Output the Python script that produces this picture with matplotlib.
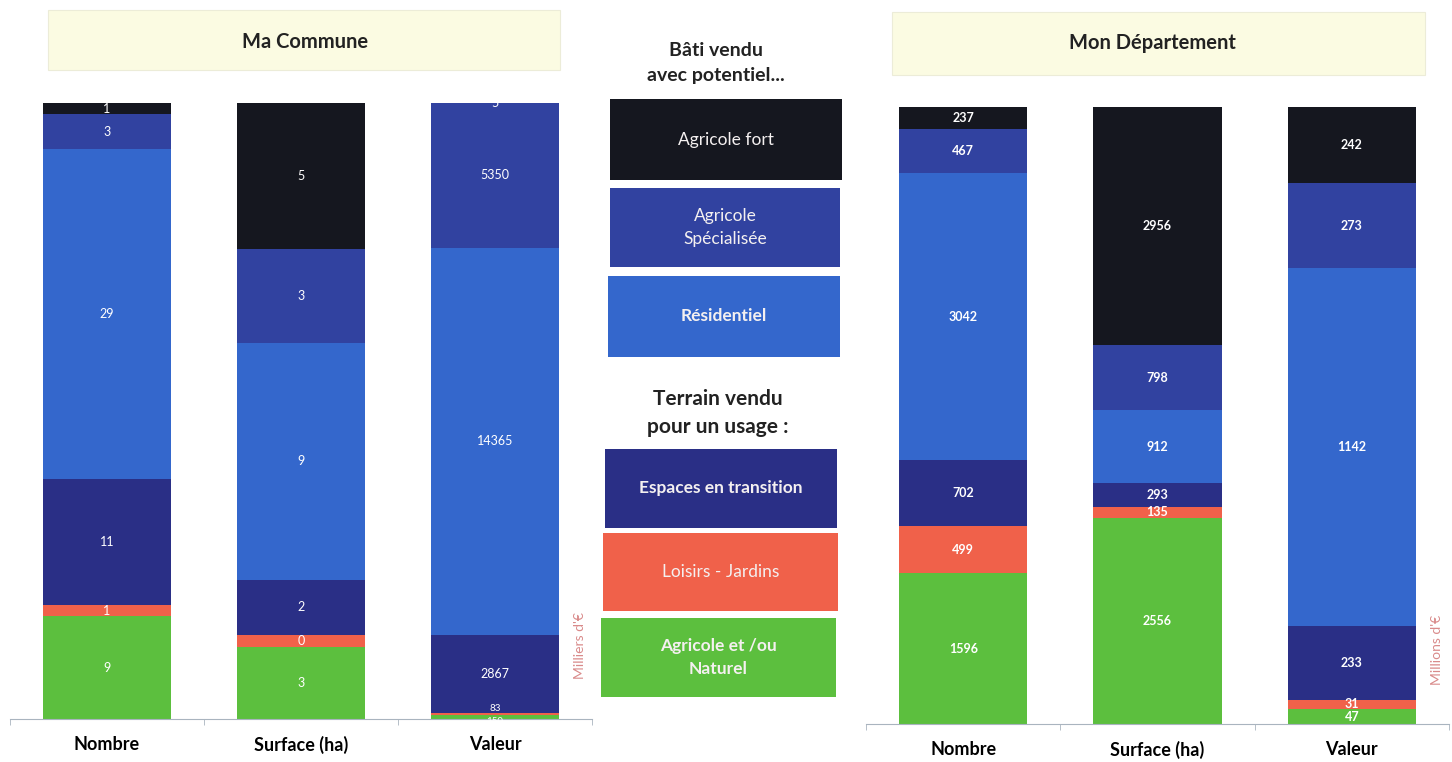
import matplotlib.pyplot as plt
from matplotlib.patches import Rectangle
import numpy as np

plt.rcParams['font.family'] = ['Lato', 'DejaVu Sans']

# categories (bottom -> top of each stack)
segments = ['Agricole et /ou\nNaturel', 'Loisirs - Jardins', 'Espaces en transition',
            'Résidentiel', 'Agricole\nSpécialisée', 'Agricole fort']
colors = ['#5cbf3e', '#f0614a', '#2a2f86', '#3467cc', '#3142a0', '#15171f']
bar_names = ['Nombre', 'Surface (ha)', 'Valeur']

# Ma Commune  (columns: Nombre, Surface, Valeur)
commune = {
    'Agricole et /ou\nNaturel': [9, 2.6, 150],
    'Loisirs - Jardins': [1, 0.45, 83],
    'Espaces en transition': [11, 2.0, 2867],
    'Résidentiel': [29, 8.6, 14365],
    'Agricole\nSpécialisée': [3, 3.4, 5350],
    'Agricole fort': [1, 5.3, 5],
}
# Mon Département
departement = {
    'Agricole et /ou\nNaturel': [1596, 2556, 47],
    'Loisirs - Jardins': [499, 135, 31],
    'Espaces en transition': [702, 293, 233],
    'Résidentiel': [3042, 912, 1142],
    'Agricole\nSpécialisée': [467, 798, 273],
    'Agricole fort': [237, 2956, 242],
}

W, H = 1452, 762
fig = plt.figure(figsize=(W / 100, H / 100), dpi=100)


def px_axes(x0, y0, x1, y1):
    return fig.add_axes([x0 / W, 1 - y1 / H, (x1 - x0) / W, (y1 - y0) / H])


def px_rect(x0, y0, x1, y1, fc, ec='none'):
    r = Rectangle((x0 / W, 1 - y1 / H), (x1 - x0) / W, (y1 - y0) / H,
                  transform=fig.transFigure, facecolor=fc, edgecolor=ec, lw=0.8)
    fig.add_artist(r)


def stacked(ax, data, unit, bold):
    vals = np.array([data[s] for s in segments], dtype=float)
    fracs = vals / vals.sum(axis=0)
    bottom = np.zeros(3)
    x = np.arange(3)
    for i, s in enumerate(segments):
        bc = ax.bar(x, fracs[i], 0.66, bottom=bottom, color=colors[i], linewidth=0)
        anns = ax.bar_label(bc, labels=['%.0f' % v for v in vals[i]], label_type='center',
                            color='white', fontsize=9, fontweight='bold' if bold else 'normal')
        # tiny slices at the bottom: shrink and push apart so labels don't collide
        for j, a in enumerate(anns):
            if fracs[i][j] < 0.01 and i < 2:
                a.set_fontsize(7)
                a.xyann = (0, 4 if i == 1 else -3)
        bottom += fracs[i]
    ax.set_xlim(-0.5, 2.5)
    ax.set_ylim(0, 1)
    for sp in ['top', 'left', 'right']:
        ax.spines[sp].set_visible(False)
    ax.spines['bottom'].set_color('#a9b4bf')
    ax.set_yticks([])
    ax.set_xticks(x)
    ax.set_xticklabels(bar_names, fontsize=13, fontweight='bold')
    ax.tick_params(axis='x', length=0, pad=12)
    ax.set_xticks([-0.5, 0.5, 1.5, 2.5], minor=True)
    ax.tick_params(axis='x', which='minor', length=4, color='#a9b4bf')
    ax.text(2.44, 0.12, unit, rotation=90, ha='center', va='center',
            color='#d98a8a', fontsize=10)


ax1 = px_axes(10, 103, 592, 719)
stacked(ax1, commune, "Milliers d'€", False)
ax2 = px_axes(866, 107, 1449, 724)
stacked(ax2, departement, "Millions d'€", True)

# headers
px_rect(48, 10, 560, 70, '#fbfbe2', '#ececd8')
fig.text(305 / W, 1 - 42 / H, 'Ma Commune', ha='center', va='center',
         fontsize=14.5, fontweight='bold', color='#222222')
px_rect(892, 12, 1425, 75, '#fbfbe2', '#ececd8')
fig.text(1152 / W, 1 - 43 / H, 'Mon Département', ha='center', va='center',
         fontsize=14.5, fontweight='bold', color='#222222')

# middle legend
fig.text(716 / W, 1 - 63 / H, 'Bâti vendu\navec potentiel...', ha='center', va='center',
         fontsize=14, fontweight='bold', color='#222222', linespacing=1.6)
fig.text(718 / W, 1 - 413 / H, 'Terrain vendu\npour un usage :', ha='center', va='center',
         fontsize=15, fontweight='bold', color='#222222', linespacing=1.55)

legend_boxes = [
    ('Agricole fort', 610, 99, 842, 180, False),
    ('Agricole\nSpécialisée', 610, 188, 840, 267, False),
    ('Résidentiel', 608, 276, 840, 357, True),
    ('Espaces en transition', 605, 449, 837, 528, True),
    ('Loisirs - Jardins', 603, 533, 838, 611, False),
    ('Agricole et /ou\nNaturel', 601, 618, 836, 697, True),
]
for name, x0, y0, x1, y1, bold in legend_boxes:
    c = colors[segments.index(name)]
    px_rect(x0, y0, x1, y1, c)
    fig.text((x0 + x1) / 2 / W, 1 - (y0 + y1) / 2 / H, name, ha='center', va='center',
             fontsize=12.5, color='#f4f0f0', fontweight='bold' if bold else 'normal',
             linespacing=1.5)

fig.savefig('out.png', dpi=100, facecolor='white')
